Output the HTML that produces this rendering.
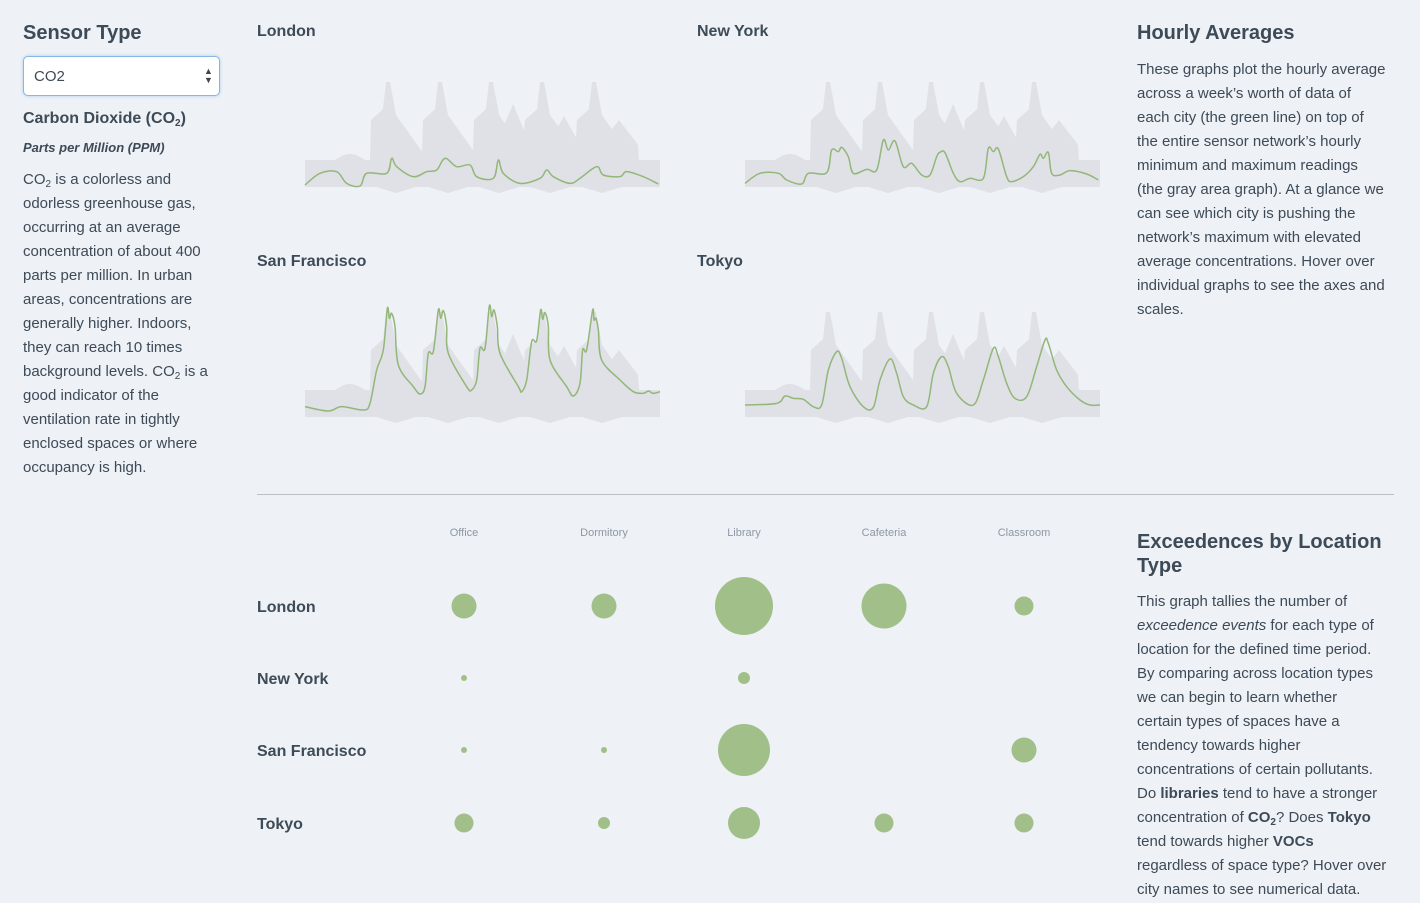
<!DOCTYPE html>
<html><head><meta charset="utf-8"><style>
body{margin:0;width:1420px;height:903px;background:#eef1f5;overflow:hidden;font-family:"Liberation Sans",sans-serif;color:#3d4a57;position:relative}
.a{position:absolute;white-space:nowrap}
.h{font-weight:bold;font-size:20px}
.t{font-weight:bold;font-size:16px}
.p{font-size:15px;line-height:24px}
.c{font-size:11px;color:#8d98a4;transform:translateX(-50%)}
sub{font-size:10px;vertical-align:-3px;line-height:0}
svg{position:absolute;left:0;top:0}
</style></head><body>
<div class="a h" style="left:23px;top:22px">Sensor Type</div>
<div class="a" style="left:23px;top:56px;width:195px;height:38px;background:#fff;border:1.5px solid #86b6e6;border-radius:5px;box-shadow:0 0 3px #a9cdf0"></div>
<div class="a" style="left:34px;top:68px;font-size:15px">CO2</div>
<div class="a" style="left:204px;top:67px;font-size:9px;line-height:9px;color:#444">▲<br>▼</div>
<div class="a t" style="left:23px;top:110px">Carbon Dioxide (CO<sub>2</sub>)</div>
<div class="a" style="left:23px;top:140px;font-size:13px;font-weight:bold;font-style:italic">Parts per Million (PPM)</div>
<div class="a p" style="left:23px;top:168px">CO<sub>2</sub> is a colorless and<br>odorless greenhouse gas,<br>occurring at an average<br>concentration of about 400<br>parts per million. In urban<br>areas, concentrations are<br>generally higher. Indoors,<br>they can reach 10 times<br>background levels. CO<sub>2</sub> is a<br>good indicator of the<br>ventilation rate in tightly<br>enclosed spaces or where<br>occupancy is high.</div>

<div class="a t" style="left:257px;top:23px">London</div>
<div class="a t" style="left:697px;top:23px">New York</div>
<div class="a t" style="left:257px;top:253px">San Francisco</div>
<div class="a t" style="left:697px;top:253px">Tokyo</div>

<div class="a h" style="left:1137px;top:22px">Hourly Averages</div>
<div class="a p" style="left:1137px;top:58px">These graphs plot the hourly average<br>across a week’s worth of data of<br>each city (the green line) on top of<br>the entire sensor network’s hourly<br>minimum and maximum readings<br>(the gray area graph). At a glance we<br>can see which city is pushing the<br>network’s maximum with elevated<br>average concentrations. Hover over<br>individual graphs to see the axes and<br>scales.</div>

<div class="a h" style="left:1137px;top:530px;line-height:24px">Exceedences by Location<br>Type</div>
<div class="a p" style="left:1137px;top:590px">This graph tallies the number of<br><i>exceedence events</i> for each type of<br>location for the defined time period.<br>By comparing across location types<br>we can begin to learn whether<br>certain types of spaces have a<br>tendency towards higher<br>concentrations of certain pollutants.<br>Do <b>libraries</b> tend to have a stronger<br>concentration of <b>CO<sub>2</sub></b>? Does <b>Tokyo</b><br>tend towards higher <b>VOCs</b><br>regardless of space type? Hover over<br>city names to see numerical data.</div>

<div class="a c" style="left:464px;top:527px">Office</div>
<div class="a c" style="left:604px;top:527px">Dormitory</div>
<div class="a c" style="left:744px;top:527px">Library</div>
<div class="a c" style="left:884px;top:527px">Cafeteria</div>
<div class="a c" style="left:1024px;top:527px">Classroom</div>
<div class="a t" style="left:257px;top:599px">London</div>
<div class="a t" style="left:257px;top:671px">New York</div>
<div class="a t" style="left:257px;top:743px">San Francisco</div>
<div class="a t" style="left:257px;top:816px">Tokyo</div>

<svg id="s" width="1420" height="903">
<line x1="257" y1="494.5" x2="1394" y2="494.5" stroke="#b9c0c7" stroke-width="1"/>
</svg>
<script>
var s=document.getElementById('s'),NS='http://www.w3.org/2000/svg';
function el(n,a){var e=document.createElementNS(NS,n);for(var k in a)e.setAttribute(k,a[k]);s.appendChild(e);}
var peaks=[83,135,186,237,289];
function topY(x){var y=80-(x>30&&x<60?6*Math.sin((x-30)/30*Math.PI):0);
 peaks.forEach(function(p,i){var d=x-p,h=0;
  if(d>=-17&&d<-5)h=40+(d+17)*0.9;else if(d>=-5&&d<-2)h=51+(d+5)*9;else if(d>=-2&&d<=2)h=78;
  else if(d>2&&d<8)h=78-(d-2)*5.5;else if(d>=8&&d<40)h=45*(1-(d-8)/32);
  if(i==2&&d>6&&d<42)h=Math.max(h,56-Math.abs(d-22)*2.4);
  if(i==3&&d>12&&d<35)h=Math.max(h,44-Math.abs(d-22)*1.8);
  if(i==4&&d>12&&d<45)h=Math.max(h,40-Math.abs(d-25)*1.3);
  y=Math.min(y,80-h);});return y;}
function botY(x){var b=107;peaks.forEach(function(p){var d=x-p;if(d>-12&&d<30)b=Math.max(b,113-Math.abs(d-8)*0.3);});return b;}
function area(ox,oy){var pts=[];for(var x=0;x<=355;x++)pts.push((ox+x)+','+(oy+topY(x)));
 for(var x=355;x>=0;x--)pts.push((ox+x)+','+(oy+botY(x)));el('polygon',{points:pts.join(' '),fill:'#dfe1e6'});}
function line(ox,oy,zx0,zy0,arr){var pts=arr.map(function(a){return [a[0]/3+zx0,a[1]/3+zy0];});
 var d='M'+pts[0][0]+','+pts[0][1];for(var i=0;i<pts.length-1;i++){var p0=pts[Math.max(i-1,0)],p1=pts[i],p2=pts[i+1],p3=pts[Math.min(i+2,pts.length-1)];
 d+=' C'+(p1[0]+(p2[0]-p0[0])/6)+','+(p1[1]+(p2[1]-p0[1])/6)+' '+(p2[0]-(p3[0]-p1[0])/6)+','+(p2[1]-(p3[1]-p1[1])/6)+' '+p2[0]+','+p2[1];}
 el('path',{d:d,fill:'none',stroke:'#93b679','stroke-width':1.5,'stroke-linejoin':'round'});}
area(305,80);area(745,80);area(305,310);area(745,310);
line(0,0,300,60,[[15,375],[60,340],[110,335],[140,370],[180,378],[200,340],[260,340],[275,295],[290,320],[340,350],[380,335],[410,330],[435,295],[470,320],[510,315],[530,350],[580,355],[595,300],[610,340],[660,370],[720,355],[740,330],[760,350],[810,370],[840,355],[890,320],[910,345],[960,350],[980,335],[1030,350],[1075,372]]);
line(0,0,740,60,[[15,370],[60,340],[115,340],[140,360],[185,372],[205,340],[260,338],[275,270],[295,275],[305,262],[325,290],[340,340],[380,328],[410,330],[430,240],[445,270],[465,243],[490,320],[515,310],[545,345],[570,345],[590,290],[600,277],[615,278],[640,340],[660,365],[690,355],[730,355],[745,265],[760,275],[775,267],[800,350],[815,365],[850,350],[880,320],[900,283],[910,295],[925,277],[935,340],[960,345],[990,332],[1040,342],[1075,360]]);
line(0,0,300,290,[[15,350],[85,363],[125,350],[190,360],[210,340],[230,240],[250,180],[262,55],[268,85],[275,70],[285,110],[295,225],[340,290],[360,312],[375,290],[385,190],[400,185],[415,60],[422,85],[430,62],[440,110],[445,190],[500,290],[515,300],[530,270],[540,175],[555,175],[568,48],[575,80],[582,60],[592,110],[600,190],[655,290],[665,305],[680,270],[695,155],[710,152],[722,60],[728,88],[735,68],[745,110],[750,210],[800,290],[820,318],[840,280],[848,180],[860,180],[878,60],[882,90],[888,85],[895,120],[905,210],[960,270],[1000,305],[1030,310],[1045,303],[1060,310],[1080,305]]);
line(0,0,740,290,[[15,345],[110,340],[135,318],[160,325],[190,328],[220,350],[245,345],[265,240],[290,185],[305,205],[330,290],[370,350],[400,352],[420,270],[450,207],[470,250],[490,320],[520,345],[560,350],[580,250],[605,200],[625,230],[650,310],[700,345],[730,270],[760,175],[775,200],[800,280],[825,325],[860,320],[890,230],[915,150],[925,160],[950,240],[980,290],[1020,330],[1050,345],[1080,345]]);
var cx=[464,604,744,884,1024],cy=[606,678,750,823];
var r=[[12.5,12.5,29,22.5,9.5],[3,0,6,0,0],[3,3,26,0,12.5],[9.5,6,16,9.5,9.5]];
r.forEach(function(row,i){row.forEach(function(v,j){if(v)el('circle',{cx:cx[j],cy:cy[i],r:v,fill:'#a1bf88'});});});
</script>
</body></html>
